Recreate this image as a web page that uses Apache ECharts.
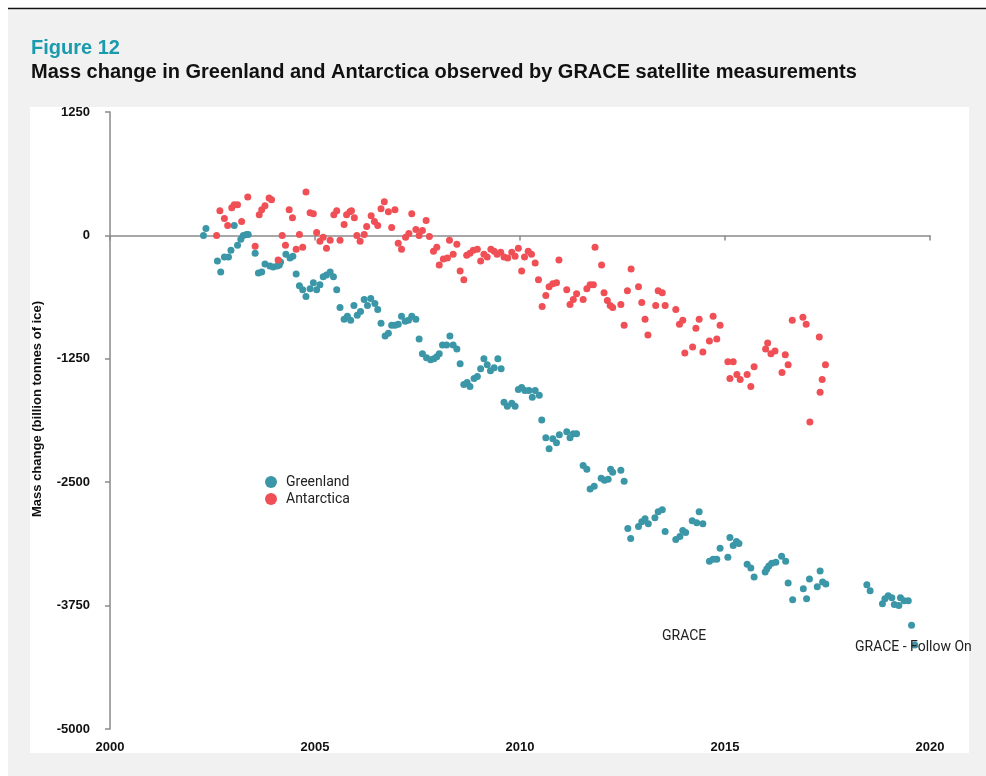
<!DOCTYPE html>
<html>
<head>
<meta charset="utf-8">
<title>Figure 12</title>
<script src="https://cdn.jsdelivr.net/npm/echarts@6/dist/echarts.min.js"></script>
<style>
    html, body { margin: 0; padding: 0; background: #fff; }
    #chart { width: 986px; height: 776px; }
</style>
</head>
<body>
<div id="chart"></div>
<script>
    // GRACE / GRACE-FO mass change, billion tonnes of ice
    var greenland = [
        [2002.28, 0], [2002.34, 70], [2002.62, -260], [2002.70, -370], [2002.79, -220], [2002.89, -220],
        [2002.95, -150], [2003.03, 100], [2003.11, -100], [2003.19, -40], [2003.25, 0], [2003.33, 10],
        [2003.37, 10], [2003.54, -180], [2003.62, -380], [2003.70, -370], [2003.78, -290], [2003.90, -310],
        [2003.98, -320], [2004.08, -310], [2004.13, -300], [2004.16, -270], [2004.29, -190], [2004.39, -230],
        [2004.46, -210], [2004.54, -390], [2004.62, -510], [2004.70, -550], [2004.78, -620], [2004.88, -540],
        [2004.96, -480], [2005.04, -550], [2005.12, -500], [2005.20, -420], [2005.28, -400], [2005.37, -370],
        [2005.45, -420], [2005.53, -550], [2005.61, -730], [2005.71, -850], [2005.79, -820], [2005.87, -860],
        [2005.95, -710], [2006.03, -810], [2006.11, -770], [2006.20, -650], [2006.28, -710], [2006.36, -640],
        [2006.46, -690], [2006.53, -750], [2006.61, -890], [2006.71, -1020], [2006.79, -990], [2006.87, -910],
        [2006.95, -910], [2007.03, -900], [2007.11, -820], [2007.20, -870], [2007.28, -860], [2007.36, -820],
        [2007.46, -850], [2007.54, -1050], [2007.62, -1200], [2007.72, -1240], [2007.82, -1260], [2007.90, -1250],
        [2007.97, -1230], [2008.03, -1200], [2008.11, -1110], [2008.21, -1110], [2008.29, -1020], [2008.37, -1110],
        [2008.46, -1150], [2008.54, -1300], [2008.63, -1510], [2008.71, -1490], [2008.78, -1530], [2008.88, -1450],
        [2008.96, -1430], [2009.04, -1350], [2009.12, -1250], [2009.20, -1310], [2009.28, -1370], [2009.37, -1340],
        [2009.46, -1250], [2009.54, -1350], [2009.61, -1690], [2009.69, -1730], [2009.80, -1700], [2009.88, -1730],
        [2009.96, -1560], [2010.04, -1540], [2010.12, -1570], [2010.22, -1570], [2010.30, -1640], [2010.37, -1570],
        [2010.47, -1620], [2010.53, -1870], [2010.63, -2050], [2010.71, -2160], [2010.80, -2060], [2010.89, -2100],
        [2010.96, -2020], [2011.14, -1990], [2011.22, -2050], [2011.30, -2010], [2011.38, -2010], [2011.54, -2330],
        [2011.63, -2370], [2011.71, -2570], [2011.81, -2540], [2011.98, -2460], [2012.06, -2480], [2012.15, -2470],
        [2012.21, -2370], [2012.26, -2400], [2012.46, -2380], [2012.54, -2490], [2012.63, -2970], [2012.70, -3070],
        [2012.89, -2950], [2012.97, -2900], [2013.05, -2870], [2013.13, -2920], [2013.29, -2860], [2013.37, -2800],
        [2013.47, -2780], [2013.54, -3000], [2013.80, -3080], [2013.90, -3050], [2013.97, -2990], [2014.04, -3010],
        [2014.20, -2890], [2014.31, -2910], [2014.37, -2800], [2014.46, -2920], [2014.62, -3300], [2014.71, -3280],
        [2014.80, -3280], [2014.88, -3170], [2015.07, -3260], [2015.12, -3060], [2015.20, -3140], [2015.28, -3100],
        [2015.34, -3120], [2015.54, -3330], [2015.63, -3370], [2015.71, -3460], [2015.98, -3410], [2016.02, -3380],
        [2016.07, -3350], [2016.14, -3320], [2016.24, -3310], [2016.38, -3250], [2016.48, -3300], [2016.54, -3520],
        [2016.65, -3690], [2016.91, -3580], [2016.99, -3680], [2017.06, -3480], [2017.25, -3560], [2017.32, -3400],
        [2017.38, -3510], [2017.46, -3530],
        [2018.46, -3540], [2018.54, -3600], [2018.84, -3730], [2018.90, -3680], [2018.98, -3650], [2019.07, -3670],
        [2019.13, -3740], [2019.24, -3750], [2019.28, -3670], [2019.37, -3700], [2019.47, -3700], [2019.55, -3950],
        [2019.63, -4150]
    ];

    var antarctica = [
        [2002.60, 0], [2002.68, 250], [2002.79, 170], [2002.87, 100], [2002.97, 280], [2003.03, 310],
        [2003.11, 310], [2003.21, 140], [2003.36, 390], [2003.54, -110], [2003.64, 210], [2003.70, 260],
        [2003.78, 300], [2003.88, 380], [2003.94, 360], [2004.10, -250], [2004.20, 0], [2004.28, -100],
        [2004.37, 260], [2004.45, 180], [2004.54, -140], [2004.62, 10], [2004.70, -120], [2004.78, 440],
        [2004.88, 230], [2004.96, 220], [2005.04, 30], [2005.12, -60], [2005.20, -20], [2005.28, -130],
        [2005.37, -50], [2005.46, 210], [2005.53, 250], [2005.61, -50], [2005.71, 110], [2005.77, 210],
        [2005.85, 240], [2005.89, 250], [2005.96, 180], [2006.02, 0], [2006.10, -60], [2006.20, 10],
        [2006.26, 90], [2006.37, 200], [2006.45, 140], [2006.53, 100], [2006.61, 270], [2006.69, 340],
        [2006.79, 240], [2006.87, 80], [2006.95, 260], [2007.03, -80], [2007.11, -140], [2007.21, -20],
        [2007.29, 20], [2007.36, 220], [2007.46, 60], [2007.54, 0], [2007.62, 50], [2007.71, 150],
        [2007.79, -10], [2007.89, -160], [2007.97, -120], [2008.03, -300], [2008.13, -240], [2008.23, -230],
        [2008.28, -50], [2008.37, -190], [2008.46, -90], [2008.54, -360], [2008.63, -450], [2008.70, -200],
        [2008.78, -180], [2008.86, -150], [2008.96, -140], [2009.04, -260], [2009.12, -190], [2009.20, -220],
        [2009.29, -140], [2009.37, -160], [2009.44, -190], [2009.53, -170], [2009.61, -220], [2009.70, -230],
        [2009.80, -170], [2009.88, -210], [2009.96, -130], [2010.04, -360], [2010.11, -220], [2010.20, -160],
        [2010.28, -190], [2010.37, -280], [2010.45, -450], [2010.54, -720], [2010.63, -610], [2010.71, -520],
        [2010.80, -490], [2010.89, -480], [2010.95, -250], [2011.14, -550], [2011.22, -700], [2011.30, -650],
        [2011.38, -590], [2011.54, -650], [2011.63, -540], [2011.71, -500], [2011.79, -500], [2011.83, -120],
        [2011.99, -300], [2012.05, -580], [2012.13, -660], [2012.20, -710], [2012.26, -730], [2012.46, -700],
        [2012.54, -910], [2012.62, -560], [2012.71, -340], [2012.89, -520], [2012.97, -680], [2013.05, -850],
        [2013.12, -1010], [2013.31, -710], [2013.37, -560], [2013.47, -580], [2013.54, -710], [2013.80, -750],
        [2013.89, -900], [2013.97, -860], [2014.02, -1190], [2014.21, -1130], [2014.29, -940], [2014.37, -850],
        [2014.46, -1180], [2014.62, -1070], [2014.71, -820], [2014.80, -1050], [2014.88, -910], [2015.07, -1280],
        [2015.12, -1450], [2015.20, -1280], [2015.29, -1410], [2015.37, -1460], [2015.54, -1410], [2015.63, -1530],
        [2015.71, -1330], [2015.99, -1150], [2016.04, -1090], [2016.12, -1200], [2016.22, -1170], [2016.39, -1390],
        [2016.47, -1210], [2016.54, -1310], [2016.64, -860], [2016.90, -830], [2016.98, -900], [2017.07, -1890],
        [2017.30, -1030], [2017.32, -1590], [2017.37, -1460], [2017.45, -1310]
    ];

    var seriesNames = ['Greenland', 'Antarctica'];
    var seriesColors = ['#3b97a7', '#ef4f55'];
    var yTicks = [-5000, -3750, -2500, -1250, 0, 1250];
    var xTicks = [2000, 2005, 2010, 2015, 2020];

    var chart = echarts.init(document.getElementById('chart'));

    var option = {
        backgroundColor: '#ffffff',
        animation: false,
        textStyle: { fontFamily: 'Roboto, "Liberation Sans", Arial, sans-serif' },
        graphic: [
            { type: 'rect', silent: true, z: -10, shape: { x: 8, y: 10, width: 978, height: 766 }, style: { fill: '#f1f1f1' } },
            { type: 'line', silent: true, z: -9, shape: { x1: 8, y1: 8.5, x2: 986, y2: 8.5 }, style: { stroke: '#111', lineWidth: 1.5 } },
            { type: 'rect', silent: true, z: -8, shape: { x: 30, y: 107, width: 939, height: 646 }, style: { fill: '#ffffff' } },
            { type: 'text', left: 31, top: 38, style: { text: 'Figure 12', fill: '#1a9aad', font: 'bold 20px "Liberation Sans", Arial, sans-serif' } },
            { type: 'text', left: 31, top: 62, style: { text: 'Mass change in Greenland and Antarctica observed by GRACE satellite measurements', fill: '#111', font: 'bold 20px "Liberation Sans", Arial, sans-serif' } },
            {
                type: 'text', x: 37, y: 409, rotation: Math.PI / 2,
                style: { text: 'Mass change (billion tonnes of ice)', fill: '#111', align: 'center', verticalAlign: 'middle', font: 'bold 13px "Liberation Sans", Arial, sans-serif' }
            },
            { type: 'text', left: 662, top: 629, style: { text: 'GRACE', fill: '#222', font: '14px Roboto, sans-serif' } },
            { type: 'text', left: 855, top: 640, z: 10, style: { text: 'GRACE - Follow On', fill: '#222', font: '14px Roboto, sans-serif' } }
        ],
        legend: {
            data: seriesNames,
            orient: 'vertical',
            left: 260,
            top: 470,
            icon: 'circle',
            itemWidth: 12,
            itemHeight: 12,
            itemGap: 3,
            textStyle: { fontSize: 14, color: '#222', fontFamily: 'Roboto, sans-serif', padding: [0, 0, 0, 4] }
        },
        grid: { left: 110, right: 56, top: 112, bottom: 47 },
        xAxis: {
            type: 'value',
            min: xTicks[0],
            max: xTicks[xTicks.length - 1],
            interval: 5,
            splitLine: { show: false },
            axisLine: { lineStyle: { color: '#8a8a8a', width: 1.5 } },
            axisTick: { show: true, length: 5, lineStyle: { color: '#8a8a8a', width: 1.5 } },
            axisLabel: {
                color: '#111', fontSize: 13, fontWeight: 'bold', margin: 12,
                fontFamily: '"Liberation Sans", Arial, sans-serif',
                formatter: function (v) { return String(v); }
            }
        },
        yAxis: {
            type: 'value',
            min: yTicks[0],
            max: yTicks[yTicks.length - 1],
            interval: 1250,
            splitLine: { show: false },
            axisLine: { show: true, lineStyle: { color: '#8a8a8a', width: 1.5 } },
            axisTick: { show: true, length: 5, lineStyle: { color: '#8a8a8a', width: 1.5 } },
            axisLabel: {
                color: '#111', fontSize: 13, fontWeight: 'bold', margin: 20,
                fontFamily: '"Liberation Sans", Arial, sans-serif',
                formatter: function (v) { return String(v); }
            }
        },
        series: [
            {
                name: seriesNames[0],
                type: 'scatter',
                symbolSize: 7,
                itemStyle: { color: seriesColors[0], opacity: 1 },
                data: greenland
            },
            {
                name: seriesNames[1],
                type: 'scatter',
                symbolSize: 7,
                itemStyle: { color: seriesColors[1], opacity: 1 },
                data: antarctica
            }
        ]
    };

    chart.setOption(option);
</script>
</body>
</html>
